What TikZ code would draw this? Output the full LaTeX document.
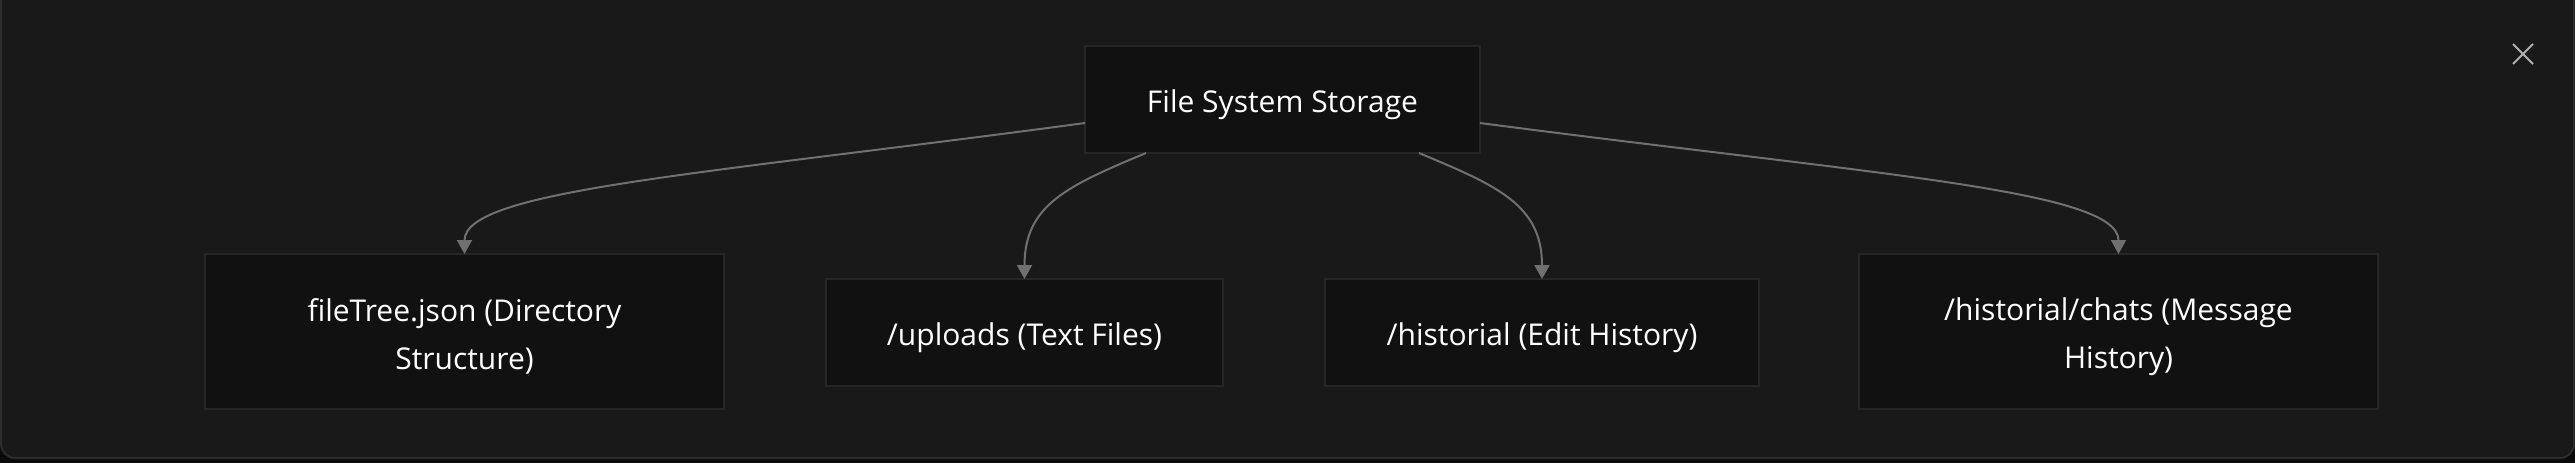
\documentclass[tikz,border=0pt]{standalone}
\usepackage{fontspec}
\setmainfont{Open Sans}
\usetikzlibrary{arrows.meta}
\definecolor{panelbg}{HTML}{191919}
\definecolor{outerbg}{HTML}{0A0A0A}
\definecolor{panelline}{HTML}{2C2C2C}
\definecolor{boxfill}{HTML}{111111}
\definecolor{boxline}{HTML}{262626}
\definecolor{edgecol}{HTML}{707070}
\definecolor{closecol}{HTML}{B0B0B0}
\newcommand{\mystrut}{\rule{0pt}{16.6pt}}
\begin{document}
\begin{tikzpicture}[x=0.5pt,y=-0.5pt,
  box/.style={draw=boxline,line width=1pt,fill=boxfill,text=white,
    font=\fontsize{15pt}{24pt}\selectfont,align=center,outer sep=0pt,inner sep=0pt},
  conn/.style={draw=edgecol,line width=1pt,-{Triangle[length=7pt,width=7.5pt]}}]
\useasboundingbox (0,0) rectangle (2575,463);
\fill[outerbg] (0,0) rectangle (2575,463);
\draw[panelline,fill=panelbg,line width=1pt,rounded corners=7pt] (1,-30) rectangle (2574,458);
% close icon
\coordinate (xc) at (2523,54);
\draw[closecol,line width=1pt] ([xshift=-5pt,yshift=5pt]xc) -- ([xshift=5pt,yshift=-5pt]xc)
  ([xshift=-5pt,yshift=-5pt]xc) -- ([xshift=5pt,yshift=5pt]xc);
% nodes
\node[box,minimum width=197.5pt,minimum height=53.5pt] (top) at (1282.5,99.5) {\mystrut File System Storage};
\node[box,minimum width=259.5pt,minimum height=77.5pt] (ft) at (464.5,331.5) {\mystrut fileTree.json (Directory\\Structure)};
\node[box,minimum width=198.5pt,minimum height=53.5pt] (up) at (1024.5,332.5) {\mystrut /uploads (Text Files)};
\node[box,minimum width=217pt,minimum height=53.5pt] (hi) at (1542,332.5) {\mystrut /historial (Edit History)};
\node[box,minimum width=259.5pt,minimum height=77.5pt] (ch) at (2118.5,331.5) {\mystrut /historial/chats (Message\\History)};
% connectors
\draw[conn] ([yshift=-11.75pt]top.west) .. controls +(-386,52) and +(0,-64) .. (ft.north);
\draw[conn] ([xshift=-68.25pt]top.south) .. controls +(-79,33) and +(0,-74) .. (up.north);
\draw[conn] ([xshift=68.25pt]top.south) .. controls +(79,33) and +(0,-74) .. (hi.north);
\draw[conn] ([yshift=-11.75pt]top.east) .. controls +(397,52) and +(0,-64) .. (ch.north);
\end{tikzpicture}
\end{document}
